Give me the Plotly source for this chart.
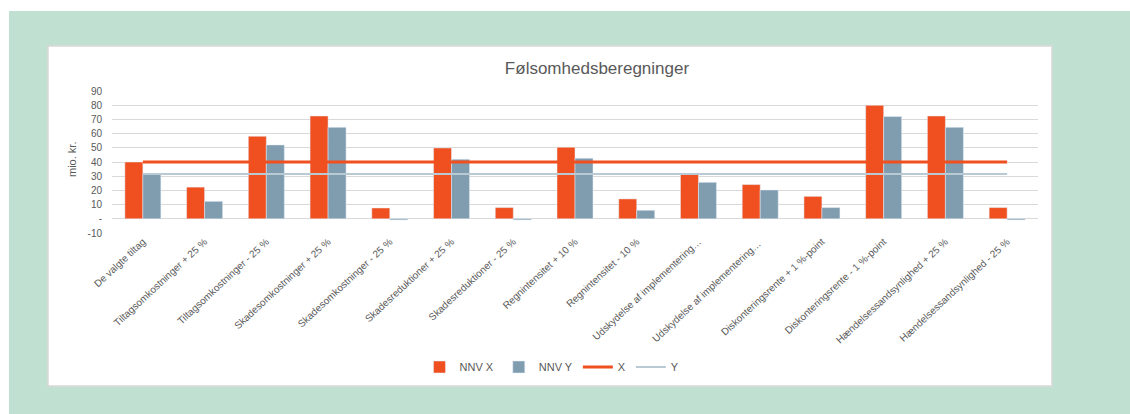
import plotly.graph_objects as go

categories = [
    "De valgte tiltag",
    "Tiltagsomkostninger + 25 %",
    "Tiltagsomkostninger - 25 %",
    "Skadesomkostninger + 25 %",
    "Skadesomkostninger - 25 %",
    "Skadesreduktioner + 25 %",
    "Skadesreduktioner - 25 %",
    "Regnintensitet + 10 %",
    "Regnintensitet - 10 %",
    "Udskydelse af implementering…",
    "Udskydelse af implementering… ",
    "Diskonteringsrente + 1 %-point",
    "Diskonteringsrente - 1 %-point",
    "Hændelsessandsynlighed + 25 %",
    "Hændelsessandsynlighed - 25 %",
]
nnv_x = [40, 22.3, 58.1, 72.4, 7.6, 49.9, 7.9, 50.4, 14, 31.3, 24.1, 15.8, 79.9, 72.4, 7.9]
nnv_y = [31.6, 12.3, 52, 64.4, -0.8, 41.9, -0.8, 42.6, 6, 25.7, 20.3, 7.9, 72, 64.4, -0.8]
line_x = [40] * 15
line_y = [31.6] * 15
ytick_vals = [-10, 0, 10, 20, 30, 40, 50, 60, 70, 80, 90]
ytick_text = ["-10", "-", "10", "20", "30", "40", "50", "60", "70", "80", "90"]

ORANGE = "#F0501F"
BLUEGRAY = "#809DB0"
LIGHTLINE = "#BACAD5"
MINT = "#C0E0D1"
TXT = "#595959"

W, H = 1130, 414
L, R, T, B = 112, 1038, 91, 233
def px(x):
    return (x - L) / (R - L)
def py(y):
    return (B - y) / (B - T)

fig = go.Figure()
fig.add_trace(go.Bar(x=categories, y=nnv_x, name="NNV X", marker_color=ORANGE))
fig.add_trace(go.Bar(x=categories, y=nnv_y, name="NNV Y", marker_color=BLUEGRAY))
fig.add_trace(go.Scatter(x=categories, y=line_x, name="X", mode="lines",
                         line=dict(color=ORANGE, width=3)))
fig.add_trace(go.Scatter(x=categories, y=line_y, name="Y", mode="lines",
                         line=dict(color=LIGHTLINE, width=2)))

fig.update_layout(
    width=W, height=H,
    margin=dict(l=L, r=W - R, t=T, b=H - B, autoexpand=False),
    paper_bgcolor="white",
    plot_bgcolor="rgba(0,0,0,0)",
    barmode="group", bargap=0.417, bargroupgap=0,
    font=dict(family="Liberation Sans, Arial, sans-serif", color=TXT, size=10),
    title=dict(text="Følsomhedsberegninger", x=597 / W, xanchor="center",
               y=1 - 68 / H, yanchor="middle",
               font=dict(size=17, color=TXT, family="Liberation Sans, Arial, sans-serif")),
    showlegend=True,
    legend=dict(orientation="h", x=px(552), xanchor="center", y=py(367), yanchor="middle",
                font=dict(size=11, color=TXT), bgcolor="rgba(0,0,0,0)",
                traceorder="normal", itemwidth=30),
    xaxis=dict(tickangle=-43, tickfont=dict(size=10, color=TXT), showgrid=False,
               showline=False, ticks="", automargin=False),
    yaxis=dict(range=[-10, 90], tickvals=ytick_vals, ticktext=ytick_text,
               showgrid=True, gridcolor="#D9D9D9", gridwidth=1, zeroline=False,
               tickfont=dict(size=10, color=TXT), ticks="", automargin=False,
               ticklabelstandoff=9),
    shapes=[
        dict(type="rect", xref="paper", yref="paper", layer="below",
             x0=px(9), x1=px(1135), y0=py(11), y1=py(420),
             fillcolor=MINT, line=dict(width=0)),
        dict(type="rect", xref="paper", yref="paper", layer="below",
             x0=px(48), x1=px(1052), y0=py(46), y1=py(386),
             fillcolor="white", line=dict(color="#D9D9D9", width=1.5)),
    ],
    annotations=[
        dict(text="mio. kr.", textangle=-90, xref="paper", yref="paper",
             x=px(72), y=py(160), xanchor="center", yanchor="middle",
             showarrow=False, font=dict(size=11, color=TXT)),
    ],
)

fig.write_html("out.html", config={"displayModeBar": False},
               post_script="document.body.style.margin='0';document.body.style.overflow='hidden';")
